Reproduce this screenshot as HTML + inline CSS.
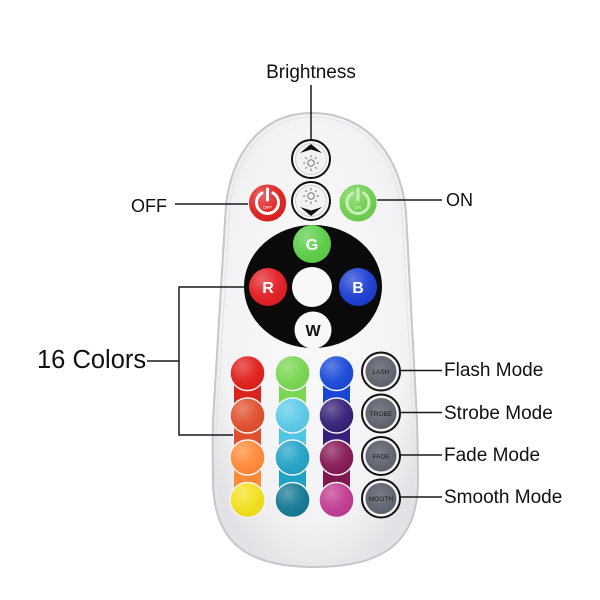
<!DOCTYPE html>
<html><head><meta charset="utf-8"><style>
html,body{margin:0;padding:0;background:#fff;}
svg{display:block;}
text{font-family:"Liberation Sans",Arial,sans-serif;}
</style></head><body>
<svg width="600" height="600" viewBox="0 0 600 600" xmlns="http://www.w3.org/2000/svg">
<defs>
<radialGradient id="body" cx="50%" cy="45%" r="60%">
<stop offset="0" stop-color="#fafafb"/><stop offset="0.75" stop-color="#f3f3f5"/><stop offset="1" stop-color="#e2e2e6"/>
</radialGradient>
<radialGradient id="gloss" cx="35%" cy="30%" r="70%">
<stop offset="0" stop-color="#fff" stop-opacity="0.3"/><stop offset="0.6" stop-color="#fff" stop-opacity="0.05"/><stop offset="1" stop-color="#000" stop-opacity="0.03"/>
</radialGradient>
<radialGradient id="modeg" cx="45%" cy="40%" r="65%">
<stop offset="0" stop-color="#7a7e88"/><stop offset="1" stop-color="#585c67"/>
</radialGradient>
</defs>
<rect width="600" height="600" fill="#fff"/>

<!-- remote body -->
<path d="M312,113 C262,113 232,152 226,205 L213,420 C212,450 213,465 213,480 C213,545 250,567 315,567 C380,567 418,545 418,480 C418,465 418,450 417,420 L406,212 C400,152 364,113 312,113 Z" fill="url(#body)" stroke="#c6c6cb" stroke-width="2"/>
<path d="M312,117 C265,117 236,155 230,206 L217,420 C216,450 217,465 217,480 C217,541 252,563 315,563 C378,563 414,541 414,480 C414,465 414,450 413,420 L402,213 C396,155 361,117 312,117 Z" fill="none" stroke="#e4e4e7" stroke-width="1"/>

<!-- connector lines -->
<g stroke="#1a1a1a" stroke-width="1.5" fill="none">
<line x1="311" y1="85" x2="311" y2="140"/>
<line x1="175" y1="204" x2="249" y2="204"/>
<line x1="377" y1="200" x2="442" y2="200"/>
<line x1="147" y1="361" x2="179" y2="361"/>
<polyline points="244,287 179,287 179,435 233,435"/>
<line x1="400" y1="370.5" x2="442" y2="370.5"/>
<line x1="400" y1="412.5" x2="442" y2="412.5"/>
<line x1="400" y1="455" x2="442" y2="455"/>
<line x1="400" y1="497" x2="442" y2="497"/>
</g>

<!-- labels -->
<g fill="#111">
<text x="311" y="78" font-size="19" text-anchor="middle">Brightness</text>
<text x="167" y="212" font-size="18" text-anchor="end">OFF</text>
<text x="446" y="206" font-size="18">ON</text>
<text x="37" y="368" font-size="25.5">16 Colors</text>
<text x="444" y="376" font-size="19">Flash Mode</text>
<text x="444" y="419" font-size="19">Strobe Mode</text>
<text x="444" y="461" font-size="19">Fade Mode</text>
<text x="444" y="503" font-size="19">Smooth Mode</text>
</g>

<!-- brightness buttons -->
<g>
<circle cx="311" cy="159" r="19" fill="#f6f6f6" stroke="#111" stroke-width="2"/>
<circle cx="311" cy="159" r="15.5" fill="#f2f2f2" stroke="#d5d5d5" stroke-width="1"/>
<path d="M300,153 L311,144 L322,153 L311,149.5 Z" fill="#111"/>
<g stroke="#777" stroke-width="1" fill="none">
<circle cx="311" cy="163" r="3.2"/>
<path d="M311,155v2.5 M311,168.5v2.5 M303,163h2.5 M316.5,163h2.5 M305.3,157.3l1.6,1.6 M315.1,167.1l1.6,1.6 M316.7,157.3l-1.6,1.6 M306.9,167.1l-1.6,1.6"/>
</g>
<circle cx="311" cy="201" r="19" fill="#f6f6f6" stroke="#111" stroke-width="2"/>
<circle cx="311" cy="201" r="15.5" fill="#f2f2f2" stroke="#d5d5d5" stroke-width="1"/>
<path d="M300,207 L311,216 L322,207 L311,210.5 Z" fill="#111"/>
<g stroke="#777" stroke-width="1" fill="none">
<circle cx="311" cy="196" r="3.2"/>
<path d="M311,188v2.5 M311,201.5v2.5 M303,196h2.5 M316.5,196h2.5 M305.3,190.3l1.6,1.6 M315.1,200.1l1.6,1.6 M316.7,190.3l-1.6,1.6 M306.9,200.1l-1.6,1.6"/>
</g>
</g>

<!-- OFF / ON -->
<g>
<circle cx="267.5" cy="203" r="19" fill="#e02222" stroke="#f3f3f3" stroke-width="1"/>
<circle cx="267.5" cy="203" r="19" fill="url(#gloss)"/>
<path d="M262,193 A11,11 0 1 0 273,193" fill="none" stroke="#fff" stroke-width="3" stroke-linecap="round"/>
<line x1="267.5" y1="189" x2="267.5" y2="200" stroke="#fff" stroke-width="3" stroke-linecap="round"/>
<text x="267.5" y="209" font-size="4.5" fill="#fff" text-anchor="middle">OFF</text>
<circle cx="358" cy="203" r="19" fill="#6fcf4e" stroke="#f3f3f3" stroke-width="1"/>
<circle cx="358" cy="203" r="19" fill="url(#gloss)"/>
<path d="M352.5,193 A11,11 0 1 0 363.5,193" fill="none" stroke="#c9f0b8" stroke-width="3" stroke-linecap="round"/>
<line x1="358" y1="189" x2="358" y2="200" stroke="#c9f0b8" stroke-width="3" stroke-linecap="round"/>
<text x="358" y="209" font-size="4.5" fill="#d8f5cc" text-anchor="middle">ON</text>
</g>

<!-- black pad -->
<ellipse cx="313" cy="286.5" rx="69" ry="61.5" fill="#0a0a0a"/>
<g font-weight="bold" font-size="16" text-anchor="middle">
<circle cx="312" cy="244" r="19" fill="#5ccf48"/>
<circle cx="312" cy="244" r="19" fill="url(#gloss)"/>
<text x="312" y="250" fill="#fff">G</text>
<circle cx="268" cy="287" r="19" fill="#e31e24"/>
<circle cx="268" cy="287" r="19" fill="url(#gloss)"/>
<text x="268" y="293" fill="#fff">R</text>
<circle cx="358" cy="287" r="19" fill="#1d3fd2"/>
<circle cx="358" cy="287" r="19" fill="url(#gloss)"/>
<text x="358" y="293" fill="#fff">B</text>
<circle cx="312" cy="287" r="20" fill="#f8f8f8"/>
<circle cx="313" cy="330" r="18.5" fill="#f8f8f8"/>
<text x="313" y="336" fill="#111">W</text>
</g>

<!-- color grid connectors -->
<g>
<rect x="234" y="383" width="27" height="22" fill="#d9231e"/>
<rect x="234" y="425" width="27" height="22" fill="#e0502e"/>
<rect x="234" y="467" width="27" height="22" fill="#ff8a38"/>
<rect x="279" y="383" width="27" height="22" fill="#7ad653"/>
<rect x="279" y="425" width="27" height="22" fill="#4fc6e4"/>
<rect x="279" y="467" width="27" height="22" fill="#20a2c4"/>
<rect x="323" y="383" width="27" height="22" fill="#1a46d6"/>
<rect x="323" y="425" width="27" height="22" fill="#34207a"/>
<rect x="323" y="467" width="27" height="22" fill="#7e1850"/>
</g>
<g stroke="#f4f4f4" stroke-width="1.5">
<circle cx="247.5" cy="373" r="17.5" fill="#e0201c"/>
<circle cx="247.5" cy="415.5" r="17.5" fill="#e0502e"/>
<circle cx="247.5" cy="457.5" r="17.5" fill="#ff8a38"/>
<circle cx="247.5" cy="500" r="17.5" fill="#f3e01e"/>
<circle cx="292.5" cy="373" r="17.5" fill="#7ad653"/>
<circle cx="292.5" cy="415.5" r="17.5" fill="#5ccbe8"/>
<circle cx="292.5" cy="457.5" r="17.5" fill="#23a3c6"/>
<circle cx="292.5" cy="500" r="17.5" fill="#167a94"/>
<circle cx="336.5" cy="373" r="17.5" fill="#1b4ad8"/>
<circle cx="336.5" cy="415.5" r="17.5" fill="#362078"/>
<circle cx="336.5" cy="457.5" r="17.5" fill="#861a55"/>
<circle cx="336.5" cy="500" r="17.5" fill="#c23c92"/>
</g>
<g fill="url(#gloss)">
<circle cx="247.5" cy="373" r="17"/><circle cx="247.5" cy="415.5" r="17"/><circle cx="247.5" cy="457.5" r="17"/><circle cx="247.5" cy="500" r="17"/>
<circle cx="292.5" cy="373" r="17"/><circle cx="292.5" cy="415.5" r="17"/><circle cx="292.5" cy="457.5" r="17"/><circle cx="292.5" cy="500" r="17"/>
<circle cx="336.5" cy="373" r="17"/><circle cx="336.5" cy="415.5" r="17"/><circle cx="336.5" cy="457.5" r="17"/><circle cx="336.5" cy="500" r="17"/>
</g>

<!-- mode buttons -->
<g>
<circle cx="381" cy="371.5" r="19" fill="#f2f2f2" stroke="#111" stroke-width="2"/>
<circle cx="381" cy="371.5" r="15.5" fill="url(#modeg)"/>
<circle cx="381" cy="413.5" r="19" fill="#f2f2f2" stroke="#111" stroke-width="2"/>
<circle cx="381" cy="413.5" r="15.5" fill="url(#modeg)"/>
<circle cx="381" cy="456" r="19" fill="#f2f2f2" stroke="#111" stroke-width="2"/>
<circle cx="381" cy="456" r="15.5" fill="url(#modeg)"/>
<circle cx="381" cy="498.5" r="19" fill="#f2f2f2" stroke="#111" stroke-width="2"/>
<circle cx="381" cy="498.5" r="15.5" fill="url(#modeg)"/>
</g>
<g font-size="6.5" fill="#1a1a1a" text-anchor="middle">
<text x="381" y="374">LASH</text>
<text x="381" y="416">TROBE</text>
<text x="381" y="458.5">FADE</text>
<text x="381" y="501">MOOTH</text>
</g>
</svg>
</body></html>
